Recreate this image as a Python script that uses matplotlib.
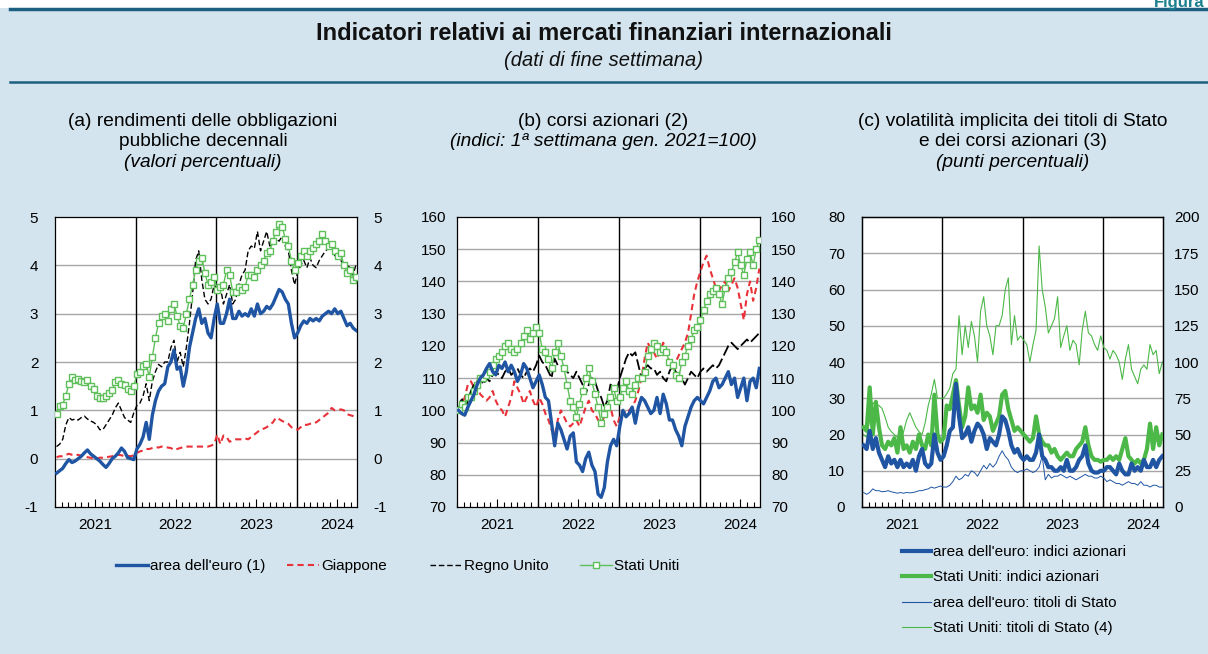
import matplotlib
import numpy as np
import pandas as pd
import matplotlib.pyplot as plt
import matplotlib.dates as mdates
from matplotlib.lines import Line2D
from matplotlib.patches import Rectangle

font = {'size': 11, 'family': ['Liberation Sans', 'DejaVu Sans']}
matplotlib.rc('font', **font)
plt.rcParams['axes.unicode_minus'] = False

# fortnightly observations, Jan 2021 - Sep 2024
dates = pd.date_range('2021-01-08', periods=98, freq='14D')

# (a) 10-year government bond yields (%)
a_euro = [-0.30, -0.25, -0.20, -0.10, -0.02, -0.08, -0.05, 0.00, 0.05, 0.12, 0.18, 0.10, 0.05,
          0.00, -0.05, -0.12, -0.18, -0.10, 0.00, 0.05, 0.12, 0.22, 0.15, 0.02, 0.00, -0.02,
          0.20, 0.30, 0.45, 0.75, 0.40, 0.90, 1.20, 1.40, 1.50, 1.55, 1.90, 2.00, 2.25,
          1.85, 1.90, 1.50, 1.80, 2.30, 2.60, 2.90, 3.10, 2.80, 2.90, 2.60, 2.50, 2.90,
          3.20, 2.80, 2.80, 3.00, 3.30, 2.90, 2.90, 3.05, 2.95, 3.00, 2.95, 3.10, 2.95,
          3.20, 3.00, 3.05, 3.15, 3.10, 3.20, 3.35, 3.50, 3.45, 3.30, 3.20, 2.80, 2.50,
          2.60, 2.75, 2.85, 2.80, 2.90, 2.85, 2.90, 2.85, 2.95, 3.00, 3.05, 3.00, 3.10,
          3.00, 3.05, 2.90, 2.75, 2.80, 2.70, 2.65]
a_japan = [0.03, 0.05, 0.05, 0.08, 0.10, 0.08, 0.07, 0.08, 0.06, 0.05, 0.03, 0.02, 0.00,
           0.00, 0.02, 0.02, 0.03, 0.04, 0.05, 0.07, 0.08, 0.07, 0.05, 0.06, 0.05, 0.07,
           0.12, 0.15, 0.17, 0.20, 0.20, 0.22, 0.24, 0.23, 0.25, 0.25, 0.23, 0.22, 0.18,
           0.20, 0.22, 0.24, 0.25, 0.25, 0.25, 0.25, 0.25, 0.25, 0.25, 0.25, 0.27, 0.30,
           0.50, 0.30, 0.48, 0.45, 0.35, 0.38, 0.40, 0.40, 0.40, 0.42, 0.40, 0.45, 0.50,
           0.55, 0.60, 0.62, 0.65, 0.70, 0.75, 0.85, 0.82, 0.78, 0.75, 0.72, 0.65, 0.62,
           0.60, 0.65, 0.70, 0.70, 0.72, 0.75, 0.75, 0.80, 0.85, 0.90, 0.95, 1.05, 1.00,
           1.00, 1.02, 1.00, 0.92, 0.90, 0.88, 0.85]
a_uk = [0.25, 0.30, 0.40, 0.70, 0.85, 0.80, 0.82, 0.80, 0.85, 0.88, 0.82, 0.78, 0.75,
        0.70, 0.60, 0.60, 0.70, 0.80, 0.90, 1.05, 1.15, 1.00, 0.85, 0.80, 0.75, 0.95,
        1.10, 1.15, 1.30, 1.55, 1.20, 1.60, 1.80, 1.95, 1.90, 2.00, 2.00, 2.30, 2.45,
        2.00, 2.20, 1.90, 2.30, 2.80, 3.40, 4.10, 4.30, 3.70, 3.30, 3.20, 3.30, 3.60,
        3.50, 3.55, 3.20, 3.40, 3.60, 3.20, 3.30, 3.60, 3.80, 3.90, 4.30, 4.40, 4.35,
        4.70, 4.30, 4.50, 4.70, 4.40, 4.50, 4.55, 4.50, 4.60, 4.40, 4.30, 3.90, 3.60,
        3.85, 4.00, 4.10, 3.95, 4.15, 4.00, 3.95, 4.10, 4.20, 4.30, 4.35, 4.40, 4.20,
        4.30, 4.10, 4.00, 4.00, 3.95, 3.80, 4.05]
a_us = [0.92, 1.10, 1.12, 1.30, 1.55, 1.70, 1.62, 1.65, 1.60, 1.58, 1.62, 1.50, 1.45,
        1.30, 1.25, 1.25, 1.30, 1.35, 1.42, 1.58, 1.62, 1.55, 1.52, 1.45, 1.40, 1.50,
        1.75, 1.80, 1.92, 1.95, 1.70, 2.10, 2.50, 2.80, 2.95, 3.00, 2.85, 3.10, 3.20,
        2.95, 2.75, 2.70, 3.00, 3.30, 3.60, 3.90, 4.10, 4.15, 3.85, 3.60, 3.65, 3.75,
        3.50, 3.55, 3.60, 3.90, 3.80, 3.45, 3.45, 3.55, 3.50, 3.55, 3.80, 3.80, 3.75,
        3.90, 4.00, 4.10, 4.25, 4.30, 4.50, 4.70, 4.85, 4.80, 4.55, 4.40, 4.10, 3.90,
        4.05, 4.20, 4.30, 4.20, 4.30, 4.35, 4.45, 4.50, 4.65, 4.50, 4.40, 4.45, 4.30,
        4.20, 4.25, 4.00, 3.85, 3.90, 3.70, 3.75]

# (b) stock indices (1st week Jan 2021 = 100)
b_euro = [100, 99, 98.5, 101, 103, 105, 108, 110, 111, 113, 114.5, 112, 111,
          114, 113, 115, 112, 114, 112, 109, 111, 114.5, 113, 110, 107, 109,
          111, 108, 104, 103, 96, 89, 96, 94, 91, 88, 92, 93, 84,
          83, 81, 85, 87, 83, 81, 74, 73, 76, 84, 89, 91, 89,
          95, 100, 98, 99, 101, 96, 101, 104, 103, 101, 99, 100, 104,
          99, 105, 102, 97, 97, 94, 92, 89, 95, 98, 101, 103, 104,
          103, 102, 104, 106, 109, 110, 107, 108, 110, 112, 108, 110, 104,
          107, 110, 103, 109, 110, 107, 113]
b_japan = [100, 102, 104, 108, 109, 107, 108, 105, 104, 103, 104, 106, 103,
           101, 100, 98, 101, 104, 109, 107, 105, 102, 104, 106, 103, 101,
           104, 102, 99, 97, 94, 92, 97, 100, 98, 96, 95, 96, 97,
           95, 98, 101, 103, 100, 99, 97, 96, 98, 100, 101, 97, 95,
           98, 100, 99, 100, 101, 103, 106, 110, 116, 121, 119, 118, 116,
           118, 121, 118, 115, 113, 115, 117, 119, 121, 124, 130, 136, 140,
           143, 146, 148, 144, 141, 138, 137, 139, 140, 137, 139, 141, 138,
           133, 128, 136, 140, 134, 138, 144]
b_uk = [100, 104, 100, 103, 106, 108, 109, 110, 108, 110, 109, 111, 112,
        111, 110, 112, 113, 111, 112, 113, 111, 110, 112, 113, 112, 114,
        117, 115, 114, 112, 110, 116, 114, 114, 113, 112, 111, 110, 112,
        110, 108, 105, 108, 110, 109, 106, 104, 101, 103, 108, 107, 106,
        110, 113, 116, 118, 117, 118, 114, 110, 113, 114, 113, 113, 111,
        112, 110, 109, 112, 114, 112, 111, 110, 108, 110, 112, 111, 110,
        112, 113, 112, 113, 114, 113, 114, 116, 118, 120, 121, 120, 119,
        120, 121, 122, 121, 122, 123, 124]
b_us = [100, 102, 101, 104, 104, 106, 108, 110, 110, 111, 112, 114, 116,
        117, 118, 120, 121, 119, 118, 119, 121, 123, 125, 122, 124, 126,
        124, 119, 118, 116, 113, 118, 121, 117, 113, 108, 103, 101, 98,
        102, 106, 110, 113, 109, 105, 101, 96, 99, 101, 104, 107, 103,
        104, 107, 109, 106, 105, 108, 110, 110, 112, 117, 119, 121, 120,
        118, 119, 118, 115, 114, 111, 110, 115, 117, 120, 122, 125, 126,
        128, 131, 134, 136, 137, 138, 136, 133, 138, 141, 143, 146, 149,
        145, 142, 147, 149, 145, 150, 153]

# (c) implied volatility (percentage points)
c_euro_eq = [17, 16, 21, 16, 19, 15, 13, 11, 14, 12, 13, 11, 13,
             11, 12, 11, 13, 10, 14, 16, 12, 11, 12, 20, 15, 13,
             14, 17, 21, 22, 34, 25, 19, 20, 22, 18, 21, 23, 22,
             20, 16, 19, 18, 17, 20, 25, 24, 21, 17, 15, 16, 14,
             13, 14, 13, 13, 15, 20, 14, 13, 11, 11, 10, 10, 11,
             10, 13, 10, 10, 11, 13, 14, 17, 12, 10, 9.5, 9.5, 10,
             10, 11, 11, 10, 9, 12, 10, 9, 9, 12, 10, 11, 10,
             13, 11, 11, 13, 11, 13, 14]
c_us_eq = [22, 21, 33, 20, 29, 22, 17, 16, 18, 17, 19, 15, 22,
           16, 17, 15, 18, 16, 20, 17, 16, 20, 17, 31, 20, 18,
           19, 28, 27, 31, 35, 28, 22, 25, 33, 27, 28, 26, 31,
           24, 26, 25, 21, 23, 25, 31, 32, 27, 24, 21, 22, 21,
           20, 19, 18, 19, 25, 20, 18, 17, 17, 15, 16, 14, 13,
           14, 15, 14, 14, 16, 17, 18, 22, 17, 14, 13, 13, 12.5,
           13, 13, 14, 13, 14, 13, 16, 19, 14, 13, 12, 13, 12,
           13, 16, 23, 16, 22, 17, 20]
c_euro_gov = [4.0, 3.5, 4.0, 5.0, 4.5, 4.5, 4.2, 4.3, 4.5, 4.2, 4.0, 3.8, 4.0,
              3.8, 4.0, 3.9, 4.0, 4.2, 4.5, 4.5, 4.8, 5.0, 5.5, 5.2, 5.5, 5.8,
              5.5, 5.5, 6.0, 7.0, 8.5, 7.5, 8.0, 9.0, 8.5, 10.0, 9.5, 8.5, 10.0,
              11.5, 10.5, 12.0, 11.0, 12.0, 14.0, 15.5, 14.0, 13.0, 11.0, 10.0, 9.5, 10.0,
              10.0, 10.5, 10.0, 9.5, 10.0, 11.0, 14.0, 7.5, 9.0, 8.0, 8.5, 8.5, 9.0,
              8.5, 8.0, 8.5, 8.0, 7.5, 8.0, 8.5, 9.0, 8.5, 8.5, 8.0, 8.0, 8.5,
              8.0, 7.0, 7.5, 7.0, 6.5, 6.5, 6.0, 6.5, 7.0, 6.5, 6.5, 6.0, 7.0,
              6.0, 6.0, 5.5, 6.0, 6.0, 5.5, 5.5]
c_us_gov = [50, 48, 60, 72, 70, 70, 68, 62, 55, 52, 50, 48, 45,
            52, 60, 65, 60, 55, 52, 50, 58, 70, 78, 88, 75, 75,
            75, 78, 82, 92, 95, 132, 105, 125, 110, 128, 118, 100, 135,
            145, 125, 118, 105, 125, 125, 132, 150, 158, 112, 132, 115, 118,
            115, 112, 100, 112, 122, 180, 150, 138, 120, 125, 130, 145, 110,
            118, 125, 108, 115, 112, 98, 122, 135, 120, 118, 112, 108, 118,
            110, 108, 102, 108, 105, 100, 88, 102, 112, 95, 90, 85, 95,
            98, 95, 112, 105, 108, 92, 100]

blue = '#1f55a3'
green = '#4cb848'
lgreen = '#5fbf5a'
red = '#e8323a'
bg = '#d3e4ee'

fig = plt.figure(figsize=(12.08, 6.54), dpi=100)
fig.patch.set_facecolor(bg)
fig.patches.append(Rectangle((0, 1 - 8 / 654), 1, 8 / 654, transform=fig.transFigure,
                             facecolor='white', edgecolor='none', zorder=0))
fig.add_artist(Line2D([0.008, 1], [1 - 9 / 654] * 2, color='#1d5f80', lw=2.5))
fig.add_artist(Line2D([0.008, 1], [1 - 82 / 654] * 2, color='#1d5f80', lw=1.8))
fig.text(0.997, 1 - 2 / 654, 'Figura', ha='right', va='center', color='#1a7f8f',
         fontsize=12, fontweight='bold')

fig.text(0.5, 1 - 34 / 654, 'Indicatori relativi ai mercati finanziari internazionali',
         ha='center', va='center', fontsize=17, fontweight='bold', color='#111111')
fig.text(0.5, 1 - 61 / 654, '(dati di fine settimana)', ha='center', va='center',
         fontsize=14.5, style='italic', color='#111111')

titles = [
    (203, ['(a) rendimenti delle obbligazioni', 'pubbliche decennali'], '(valori percentuali)'),
    (603, ['(b) corsi azionari (2)'], '(indici: 1ª settimana gen. 2021=100)'),
    (1013, ['(c) volatilità implicita dei titoli di Stato', 'e dei corsi azionari (3)'],
     '(punti percentuali)'),
]
for xc, lines, ital in titles:
    y = 122
    for ln in lines:
        fig.text(xc / 1208, 1 - y / 654, ln, ha='center', va='center', fontsize=13.8)
        y += 20
    fig.text(xc / 1208, 1 - y / 654, ital, ha='center', va='center', fontsize=13.8,
             style='italic')

bottom = (654 - 507) / 654
height = 290 / 654
ax_a = fig.add_axes([55 / 1208, bottom, 302 / 1208, height])
ax_b = fig.add_axes([457 / 1208, bottom, 303 / 1208, height])
ax_c = fig.add_axes([862 / 1208, bottom, 301 / 1208, height])
ax_c2 = ax_c.twinx()

xmin, xmax = pd.Timestamp('2021-01-01'), pd.Timestamp('2024-09-30')
years = [pd.Timestamp(f'{y}-01-01') for y in (2022, 2023, 2024)]


def style_time_axis(ax):
    ax.set_xlim(xmin, xmax)
    ax.xaxis.set_major_locator(mdates.MonthLocator(bymonth=7))
    ax.xaxis.set_major_formatter(mdates.DateFormatter('%Y'))
    ax.xaxis.set_minor_locator(mdates.MonthLocator())
    ax.tick_params(axis='x', which='major', direction='in', length=6, width=0.8,
                   labelsize=11, pad=8)
    ax.tick_params(axis='x', which='minor', direction='in', length=3.5, width=0.8)
    for s in ax.spines.values():
        s.set_linewidth(0.9)


def grid_and_years(ax, ticks):
    for t in ticks[1:-1]:
        ax.axhline(t, color='#a6a6a6', lw=1.0, zorder=0)
    for d in years:
        ax.axvline(d, color='black', lw=1.0, zorder=0.5)


# panel (a)
ax_a.plot(dates, a_euro, '-', color=blue, lw=2.4, label="area dell'euro (1)", zorder=4)
ax_a.plot(dates, a_japan, '--', color=red, lw=1.5, dashes=(3, 2), label='Giappone', zorder=3)
ax_a.plot(dates, a_uk, '--', color='black', lw=1.0, dashes=(4, 2), label='Regno Unito', zorder=3)
ax_a.plot(dates, a_us, '-s', color=lgreen, lw=1.0, markersize=4.8, markerfacecolor='white',
          markeredgecolor=lgreen, markeredgewidth=1.0, label='Stati Uniti', zorder=3)
ax_a.set_ylim(-1, 5)
ticks_a = np.arange(-1, 6, 1)
ax_a.set_yticks(ticks_a)
grid_and_years(ax_a, ticks_a)
style_time_axis(ax_a)
ax_a.tick_params(axis='y', length=0, labelright=True, labelsize=11, pad=12)

# panel (b)
ax_b.plot(dates, b_euro, '-', color=blue, lw=2.4, zorder=4)
ax_b.plot(dates, b_japan, '--', color=red, lw=1.5, dashes=(3, 2), zorder=3)
ax_b.plot(dates, b_uk, '--', color='black', lw=1.3, dashes=(6, 2), zorder=3)
ax_b.plot(dates, b_us, '-s', color=lgreen, lw=1.0, markersize=4.8, markerfacecolor='white',
          markeredgecolor=lgreen, markeredgewidth=1.0, zorder=3)
ax_b.set_ylim(70, 160)
ticks_b = np.arange(70, 161, 10)
ax_b.set_yticks(ticks_b)
grid_and_years(ax_b, ticks_b)
style_time_axis(ax_b)
ax_b.tick_params(axis='y', length=0, labelright=True, labelsize=11, pad=8)

# panel (c)
ax_c2.set_zorder(ax_c.get_zorder() - 1)
ax_c.patch.set_visible(False)
ax_c2.patch.set_visible(True)
ax_c2.patch.set_facecolor('white')
ax_c2.plot(dates, c_us_gov, '-', color=green, lw=0.8, label='Stati Uniti: titoli di Stato (4)')
ax_c2.set_ylim(0, 200)
ticks_c2 = np.arange(0, 201, 25)
ax_c2.set_yticks(ticks_c2)
grid_and_years(ax_c2, ticks_c2)
ax_c2.tick_params(axis='y', length=0, labelsize=11, pad=8)

ax_c.plot(dates, c_us_eq, '-', color=green, lw=3.0, label='Stati Uniti: indici azionari', zorder=3)
ax_c.plot(dates, c_euro_eq, '-', color=blue, lw=3.0, label="area dell'euro: indici azionari",
          zorder=4)
ax_c.plot(dates, c_euro_gov, '-', color=blue, lw=0.7, label="area dell'euro: titoli di Stato",
          zorder=5)
ax_c.set_ylim(0, 80)
ax_c.set_yticks(np.arange(0, 81, 10))
ax_c.tick_params(axis='y', length=0, labelsize=11, pad=12)
style_time_axis(ax_c)
style_time_axis(ax_c2)

# legend under (a) and (b)
leg_pos = [116, 287, 430, 580]
handles_ab = ax_a.get_lines()
for h, xp in zip(handles_ab, leg_pos):
    fig.legend([h], [h.get_label()], loc='center left',
               bbox_to_anchor=(xp / 1208, 1 - 566 / 654), frameon=False, fontsize=11,
               handlelength=2.1, handletextpad=0.15, borderaxespad=0, borderpad=0)

# legend under (c)
c_items = [
    (Line2D([], [], color=blue, lw=3.0), "area dell'euro: indici azionari"),
    (Line2D([], [], color=green, lw=3.0), 'Stati Uniti: indici azionari'),
    (Line2D([], [], color=blue, lw=0.8), "area dell'euro: titoli di Stato"),
    (Line2D([], [], color=green, lw=0.8), 'Stati Uniti: titoli di Stato (4)'),
]
fig.legend([h for h, _ in c_items], [l for _, l in c_items], loc='upper left',
           bbox_to_anchor=(902 / 1208, 1 - 545 / 654), frameon=False, fontsize=11,
           handlelength=1.9, handletextpad=0.15, labelspacing=0.75, borderaxespad=0,
           borderpad=0)

plt.savefig('out.png', dpi=100, facecolor=fig.get_facecolor())
